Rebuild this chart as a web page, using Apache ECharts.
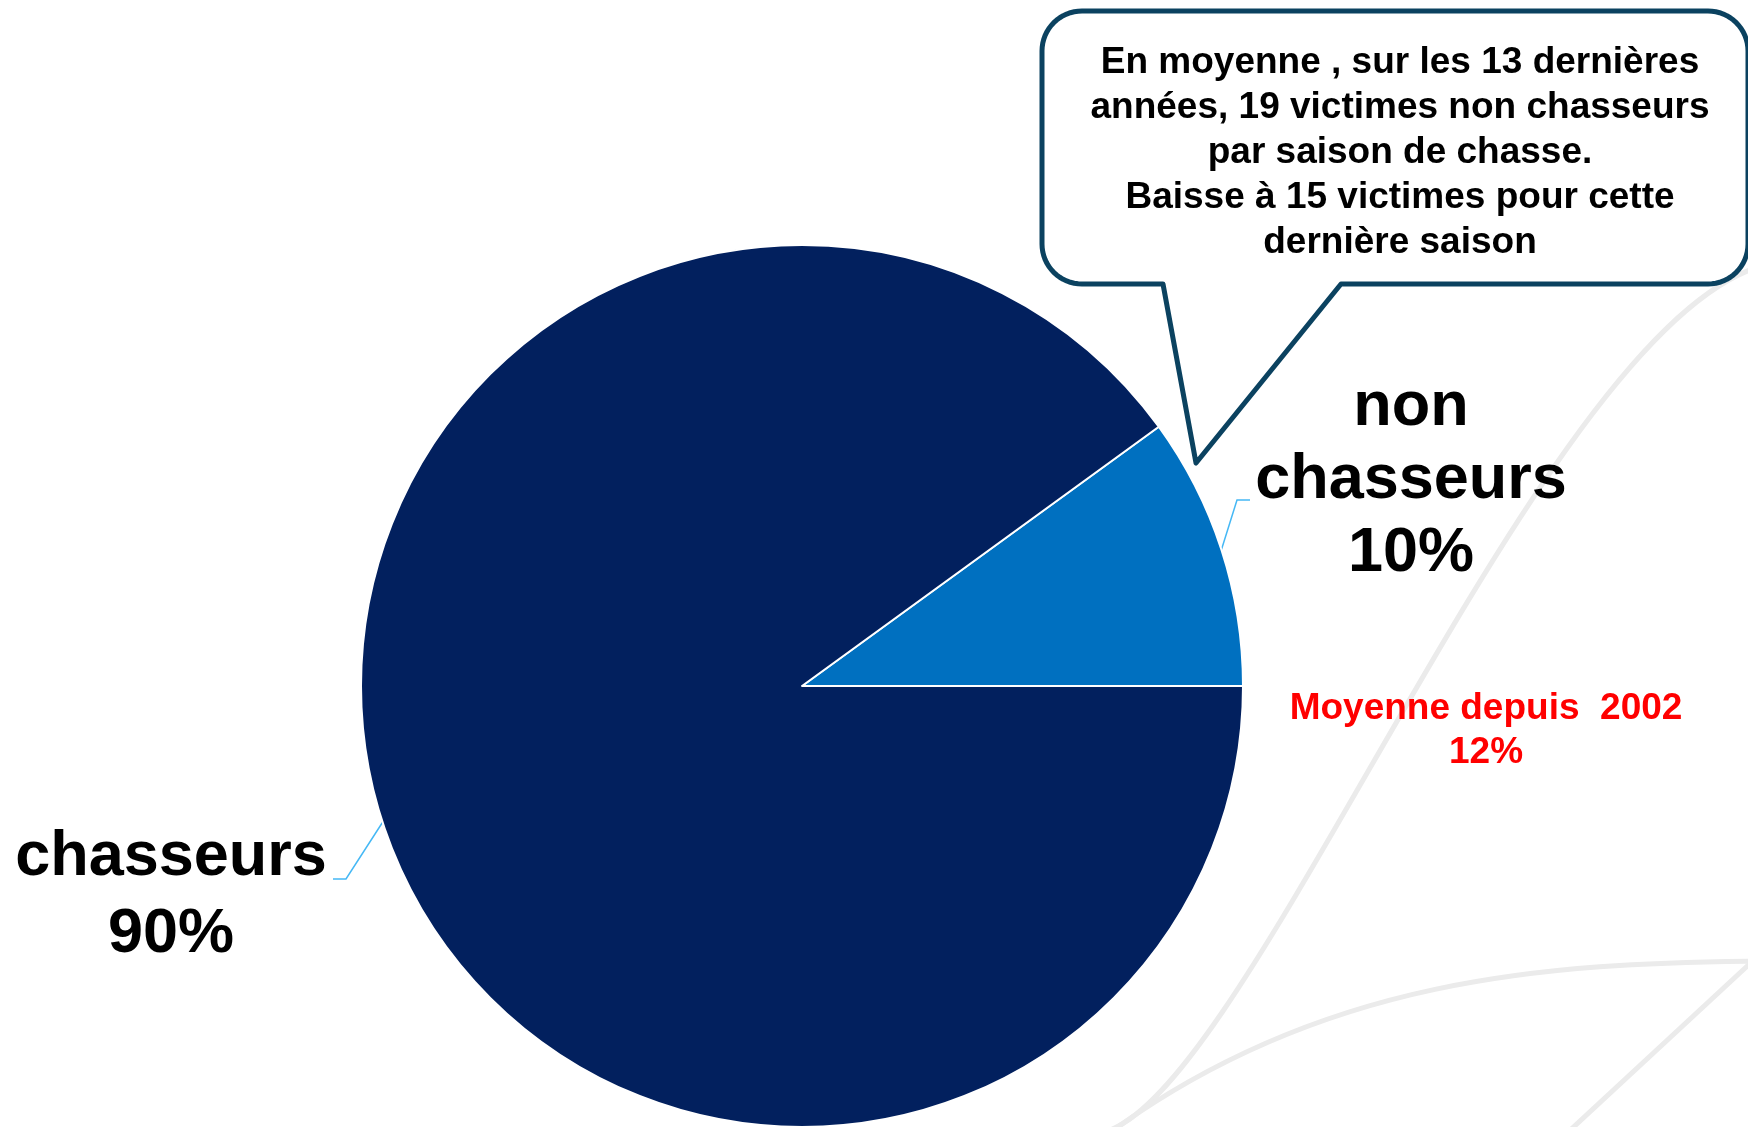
<!DOCTYPE html>
<html>
<head>
<meta charset="utf-8">
<script src="https://cdn.jsdelivr.net/npm/echarts@6/dist/echarts.min.js"></script>
<style>
html,body{margin:0;padding:0;background:#fff;}
#chart{width:1748px;height:1127px;}
</style>
</head>
<body>
<div id="chart"></div>
<script>
// ---- data ----
const categories = ['non chasseurs', 'chasseurs'];
const shares = [10, 90];
const sliceColors = ['#0070C0', '#02205E'];
const calloutLines = [
  'En moyenne , sur les 13 dernières',
  'années, 19 victimes non chasseurs',
  'par saison de chasse.',
  'Baisse à 15 victimes pour cette',
  'dernière saison'
];
const averageLines = ['Moyenne depuis  2002', '12%'];

// ---- layout ----
const FONT = '"Liberation Sans", Arial, sans-serif';
const center = [802, 686];
const radius = 441;
const labelPos = [[1411, 481], [171, 896]];
const labelLineHeights = [73, 77];
const leader = [
  [[1237, 500], [1250, 500]],
  [[346, 879], [333, 879]]
];

const chart = echarts.init(document.getElementById('chart'), null, {renderer: 'canvas'});

const bgStyle = {stroke: '#EBEBEB', lineWidth: 5, fill: null};

// callout outline with rounded corners
function arcPts(cx, cy, r, a0, a1) {
  const pts = [];
  const n = 16;
  for (let k = 0; k <= n; k++) {
    const a = a0 + (a1 - a0) * k / n;
    pts.push([cx + r * Math.cos(a), cy + r * Math.sin(a)]);
  }
  return pts;
}
const L = 1042, T = 11, R = 1748, B = 284, RAD = 40;
const calloutPts = [].concat(
  arcPts(L + RAD, T + RAD, RAD, Math.PI, 1.5 * Math.PI),
  arcPts(R - RAD, T + RAD, RAD, 1.5 * Math.PI, 2 * Math.PI),
  arcPts(R - RAD, B - RAD, RAD, 0, 0.5 * Math.PI),
  [[1341, B], [1196, 463], [1163, B]],
  arcPts(L + RAD, B - RAD, RAD, 0.5 * Math.PI, Math.PI)
);

const data = categories.map((c, i) => ({
  name: c,
  value: shares[i],
  itemStyle: {color: sliceColors[i]},
  label: {lineHeight: labelLineHeights[i]}
}));

chart.setOption({
  animation: false,
  backgroundColor: '#ffffff',
  graphic: [
    {type: 'bezierCurve', silent: true, z: -10,
     shape: {x1: 1762, y1: 266, cpx1: 1540, cpy1: 328, cpx2: 1250, cpy2: 1095, x2: 1104, y2: 1132},
     style: bgStyle},
    {type: 'bezierCurve', silent: true, z: -10,
     shape: {x1: 1762, y1: 961, cpx1: 1548, cpy1: 963, cpx2: 1322, cpy2: 977, x2: 1108, y2: 1134},
     style: bgStyle},
    {type: 'line', silent: true, z: -10,
     shape: {x1: 1756, y1: 958, x2: 1566, y2: 1134},
     style: bgStyle},
    {
      type: 'polygon',
      z: 100,
      shape: {points: calloutPts},
      style: {fill: '#ffffff', stroke: '#0B4260', lineWidth: 5, lineJoin: 'round'}
    },
    {
      type: 'text',
      z: 101,
      x: 1400, y: 153,
      style: {
        text: calloutLines.join('\n'),
        font: 'bold 37px ' + FONT,
        fill: '#000000',
        align: 'center',
        verticalAlign: 'middle',
        lineHeight: 45
      }
    },
    {
      type: 'text',
      z: 101,
      x: 1486, y: 731,
      style: {
        text: averageLines.join('\n'),
        font: 'bold 37px ' + FONT,
        fill: '#FF0000',
        align: 'center',
        verticalAlign: 'middle',
        lineHeight: 44
      }
    }
  ],
  series: [{
    type: 'pie',
    center: center,
    radius: radius,
    startAngle: 36,
    clockwise: true,
    selectedMode: false,
    emphasis: {disabled: true},
    itemStyle: {borderColor: '#ffffff', borderWidth: 2},
    data: data,
    label: {
      show: true,
      position: 'outside',
      formatter: p => p.name.replace(' ', '\n') + '\n' + Math.round(p.percent) + '%',
      fontFamily: FONT,
      fontWeight: 'bold',
      fontSize: 63,
      lineHeight: 74,
      color: '#000000',
      align: 'center'
    },
    labelLine: {
      show: true,
      length: 30,
      length2: 15,
      lineStyle: {color: '#45B8F5', width: 1.5}
    },
    labelLayout: function (params) {
      const i = params.dataIndex;
      let p0;
      if (params.labelLinePoints && params.labelLinePoints[0]) {
        p0 = params.labelLinePoints[0];
      } else {
        const ang = (i === 0 ? 18 : 198) * Math.PI / 180;
        p0 = [center[0] + radius * Math.cos(ang), center[1] - radius * Math.sin(ang)];
      }
      return {
        x: labelPos[i][0],
        y: labelPos[i][1],
        align: 'center',
        verticalAlign: 'middle',
        labelLinePoints: [p0, leader[i][0], leader[i][1]]
      };
    }
  }]
});
</script>
</body>
</html>
